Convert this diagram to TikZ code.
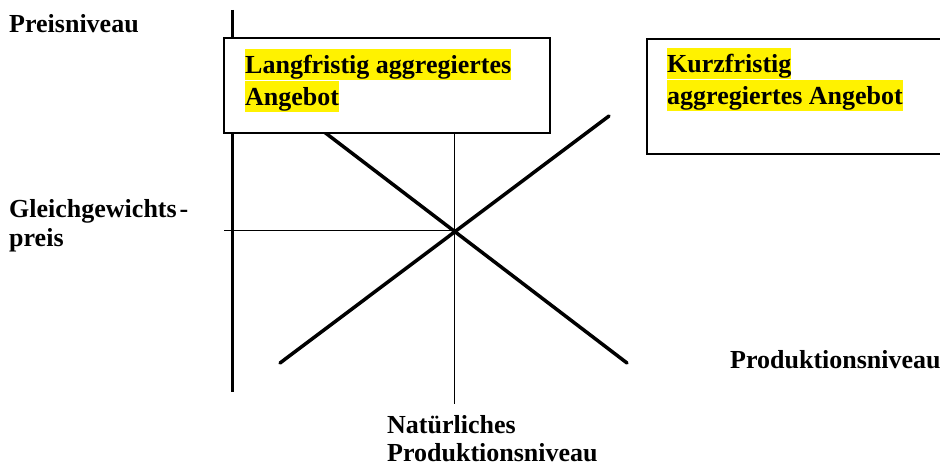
\documentclass[tikz,border=0pt]{standalone}
\usepackage{fontspec}
\setmainfont{Liberation Serif}
\usetikzlibrary{calc}

\tikzset{
  txt/.style={font=\bfseries\fontsize{26}{29}\selectfont,inner sep=0pt,anchor=base west},
  hilite/.style={txt,fill=yellow,text height=25pt,text depth=6pt},
  curve/.style={line width=3.5pt,line cap=round},
  guide/.style={line width=1pt},
  frame/.style={draw,fill=white,line width=1.5pt}
}

\begin{document}
\begin{tikzpicture}[x=1pt,y=-1pt]
  \useasboundingbox (0,0) rectangle (940,465);
  \clip (0,0) rectangle (940,465);
  \coordinate (ytop) at (232,10);
  \coordinate (ybot) at (232,392);
  \coordinate (eq) at (454,231);
  \coordinate (peq) at (224,231);
  \coordinate (qtop) at (454,133);
  \coordinate (qn) at (454,404);
  % the falling line starts behind the left box
  \coordinate (d0) at (319,128);
  \coordinate (d1) at (627,363);
  \coordinate (s0) at (280,363);
  \coordinate (s1) at (609,116);
  \draw [line width=3pt] (ytop) -- (ybot);
  \draw [guide] (peq) -- (eq) (qtop) -- (qn);
  \draw [curve] (s0) -- (s1);
  \draw [curve] (d0) -- (d1);
  \draw [frame] (224,38) rectangle (550,133);
  \draw [frame] (647,39) rectangle (960,154);
  \node [hilite] (lr1) at (245,74) {Langfristig aggregiertes};
  \node [hilite] (lr2) at (245,106) {Angebot};
  \node [hilite] (kr1) at (667,73) {Kurzfristig};
  \node [hilite] (kr2) at (667,105) {aggregiertes Angebot};
  \node [txt] (ylab) at (9,33) {Preisniveau};
  \node [txt] (pl1) at (9,218) {Gleichgewichts\kern3pt-};
  \node [txt] (pl2) at (9,247) {preis};
  \node [txt] (xlab) at (730,368) {Produktionsniveau};
  \node [txt] (ql1) at (387,433) {Natürliches};
  \node [txt] (ql2) at (387,461) {Produktionsniveau};
\end{tikzpicture}
\end{document}
